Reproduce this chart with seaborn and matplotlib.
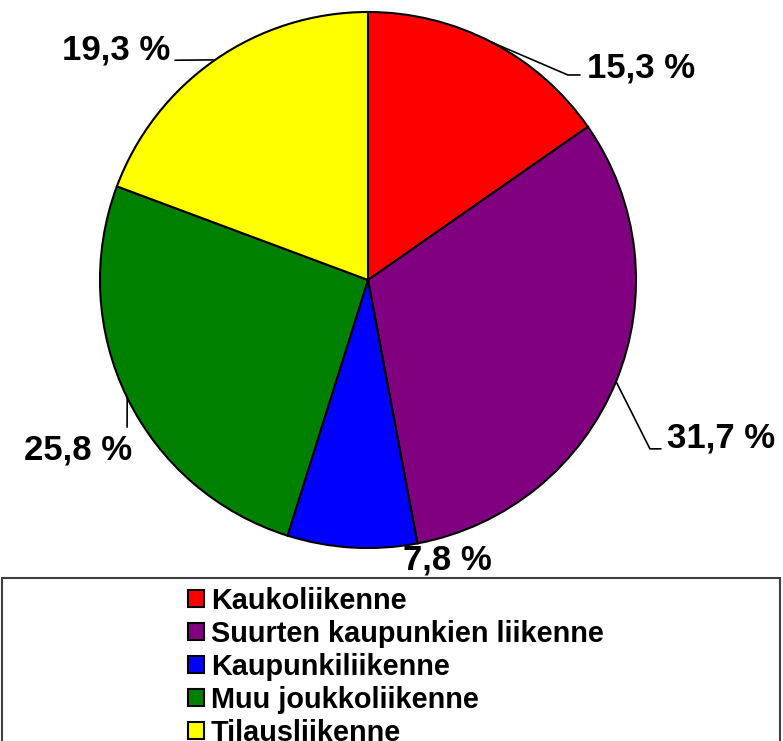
import numpy as np
import matplotlib
matplotlib.use("Agg")
import matplotlib.pyplot as plt
import seaborn as sns
from matplotlib.patches import Rectangle, Patch

# data
categories = ["Kaukoliikenne", "Suurten kaupunkien liikenne", "Kaupunkiliikenne",
              "Muu joukkoliikenne", "Tilausliikenne"]
shares = [15.3, 31.7, 7.8, 25.8, 19.3]
labels = ["15,3 %", "31,7 %", "7,8 %", "25,8 %", "19,3 %"]
colors = ["#FF0000", "#800080", "#0000FF", "#008000", "#FFFF00"]

sns.set_theme(style="white")
plt.rcParams["font.family"] = ["Liberation Sans", "DejaVu Sans"]
plt.rcParams["font.weight"] = "bold"
plt.rcParams["text.color"] = "black"

W, H = 783, 741
fig = plt.figure(figsize=(W / 100, H / 100), dpi=100)
fig.patch.set_facecolor("white")

# pie axes: centre (368, 280), radius 268 px
ax = fig.add_axes([100 / W, (H - 548) / H, 536 / W, 536 / H])
wedges, _ = ax.pie(shares, colors=colors, startangle=90, counterclock=False,
                   wedgeprops=dict(edgecolor="black", linewidth=1.5))
ax.set_xlim(-1, 1)
ax.set_ylim(-1, 1)
ax.set_aspect("equal")
ax.axis("off")

# label text positions (data units) and leader line bends
text_pos = [(0.817, 0.79, "left"), (1.116, -0.59, "left"), (0.295, -1.045, "center"),
            (-1.082, -0.634, "center"), (-0.739, 0.86, "right")]
leaders = [[(0.746, 0.765), (0.791, 0.765)],
           [(1.052, -0.63), (1.093, -0.63)],
           None,
           [(-0.899, -0.549)],
           [(-0.72, 0.82)]]

for w, lab, (tx, ty, ha), bend in zip(wedges, labels, text_pos, leaders):
    mid = np.deg2rad((w.theta1 + w.theta2) / 2)
    ex, ey = np.cos(mid), np.sin(mid)
    if bend is not None:
        xs = [ex] + [p[0] for p in bend]
        ys = [ey] + [p[1] for p in bend]
        ax.plot(xs, ys, color="black", lw=1.2, clip_on=False)
    ax.text(tx, ty, lab, ha=ha, va="center", fontsize=25, fontweight="bold",
            color="black", clip_on=False)

# legend box (runs off the bottom of the figure)
fig.patches.append(Rectangle((2 / W, -0.05), 778 / W, (H - 578) / H + 0.05,
                             transform=fig.transFigure, facecolor="white",
                             edgecolor="#404040", linewidth=1.5))
handles = [Patch(facecolor=c, edgecolor="black", linewidth=1.5) for c in colors]
leg = fig.legend(handles, categories, loc="upper left",
                 bbox_to_anchor=(188 / W, (H - 587) / H), frameon=False,
                 prop=dict(size=20.8, weight="bold"), handlelength=0.55,
                 handleheight=0.55, handletextpad=0.25, labelspacing=0.17,
                 borderaxespad=0, borderpad=0)
for t in leg.get_texts():
    t.set_color("black")

fig.savefig("out.png", dpi=100, facecolor="white")
